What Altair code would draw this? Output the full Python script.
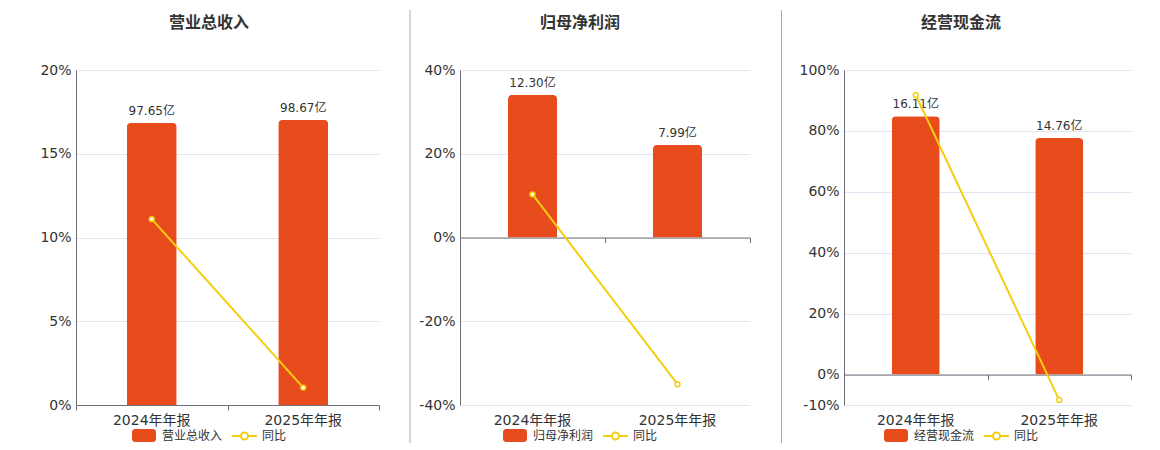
import altair as alt
import pandas as pd

# ---------------- data ----------------
categories = ["2024年年报", "2025年年报"]
titles = ["营业总收入", "归母净利润", "经营现金流"]
yoy_name = "同比"

revenue = [97.65, 98.67]
revenue_yoy = [11.10, 1.04]

profit = [12.30, 7.99]
profit_yoy = [10.30, -35.04]

cashflow = [16.11, 14.76]
cashflow_yoy = [91.80, -8.38]

pct_ticks_1 = [0, 5, 10, 15, 20]
pct_ticks_2 = [-40, -20, 0, 20, 40]
pct_ticks_3 = [-10, 0, 20, 40, 60, 80, 100]

# ---------------- style ----------------
ORANGE = "#E84B1C"
YELLOW = "#F5CE0F"
AXIS = "#6E7079"
GRID = "#E0E6F1"
TEXT = "#333333"
SEP = "#AAAAAA"
FONT = "DejaVu Sans, Noto Sans CJK SC, sans-serif"
H = 335


def one():
    return alt.Data(values=[{"k": 0}])


def panel(title, values, yoy, pct_ticks, bar_domain, width, bar_size, center, sep_x, sep_visible):
    df = pd.DataFrame({
        "cat": categories,
        "value": values,
        "yoy": yoy,
        "label": [f"{v:.2f}亿" for v in values],
    })
    pmin, pmax = min(pct_ticks), max(pct_ticks)
    zero_offset = -H * (0 - pmin) / (pmax - pmin)

    xscale = alt.Scale(domain=categories, paddingInner=0, paddingOuter=0)
    x_lab = alt.X("cat:N", sort=categories, scale=xscale,
                  axis=alt.Axis(title=None, orient="bottom", labelAngle=0, domain=False,
                                ticks=False, tickSize=0, labelFontSize=14, labelColor=TEXT,
                                labelPadding=8, grid=False))
    x_zero = alt.X("cat:N", sort=categories, scale=xscale,
                   axis=alt.Axis(title=None, orient="bottom", labels=False, domain=True,
                                 domainColor=AXIS, domainWidth=1, ticks=True, tickColor=AXIS,
                                 tickSize=5, tickBand="extent", grid=False, offset=zero_offset))

    ybar = alt.Y("value:Q", scale=alt.Scale(domain=bar_domain, nice=False), axis=None)
    bars = alt.Chart(df).mark_bar(size=bar_size, color=ORANGE,
                                  cornerRadiusTopLeft=4, cornerRadiusTopRight=4).encode(
        x=x_lab, y=ybar)
    labels = alt.Chart(df).mark_text(dy=-5, baseline="bottom", fontSize=12, color=TEXT).encode(
        x=x_lab, y=ybar, text="label:N")
    bar_layer = alt.layer(bars, labels)

    yscale = alt.Scale(domain=[pmin, pmax], nice=False)
    yaxis = alt.Axis(title=None, orient="left", values=pct_ticks, labelExpr="datum.value + '%'",
                     grid=True, gridColor=GRID, domain=True, domainColor=AXIS,
                     ticks=False, tickSize=0, labelFontSize=14, labelColor=TEXT,
                     labelPadding=5)
    yline = alt.Y("yoy:Q", scale=yscale, axis=yaxis)
    line = alt.Chart(df).mark_line(color=YELLOW, strokeWidth=2).encode(x=x_zero, y=yline)
    points = alt.Chart(df).mark_point(shape="circle", size=24, filled=True, fill="white",
                                      stroke=YELLOW, strokeWidth=1.5, opacity=1).encode(
        x=x_zero, y=yline)
    line_layer = alt.layer(line, points)

    ty = -47.5
    ly = 366
    deco = [
        alt.Chart(one()).mark_text(fontSize=16, fontWeight="bold", color=TEXT,
                                   align="center", baseline="middle").encode(
            x=alt.value(center), y=alt.value(ty), text=alt.value(title)),
        alt.Chart(one()).mark_rect(color=ORANGE, cornerRadius=3).encode(
            x=alt.value(center - 77), x2=alt.value(center - 53),
            y=alt.value(ly - 7), y2=alt.value(ly + 6)),
        alt.Chart(one()).mark_text(fontSize=12, color=TEXT, align="left", baseline="middle").encode(
            x=alt.value(center - 47), y=alt.value(ly), text=alt.value(title)),
        alt.Chart(one()).mark_rule(color=YELLOW, strokeWidth=2).encode(
            x=alt.value(center + 23), x2=alt.value(center + 48), y=alt.value(ly)),
        alt.Chart(one()).mark_point(shape="circle", size=50, filled=True, fill="white",
                                    stroke=YELLOW, strokeWidth=2, opacity=1).encode(
            x=alt.value(center + 35.5), y=alt.value(ly)),
        alt.Chart(one()).mark_text(fontSize=12, color=TEXT, align="left", baseline="middle").encode(
            x=alt.value(center + 53), y=alt.value(ly), text=alt.value(yoy_name)),
        alt.Chart(one()).mark_rule(color=SEP, strokeWidth=1,
                                   strokeOpacity=1 if sep_visible else 0).encode(
            x=alt.value(sep_x), y=alt.value(-60), y2=alt.value(373)),
    ]

    return alt.layer(bar_layer, line_layer, *deco).resolve_scale(
        y="independent").resolve_axis(x="independent").properties(width=width, height=H)


p1 = panel(titles[0], revenue, revenue_yoy, pct_ticks_1, [0, 116], 303, 50, 133, -67, False)
p2 = panel(titles[1], profit, profit_yoy, pct_ticks_2, [-14.45, 14.45], 290, 49, 120, -50, True)
p3 = panel(titles[2], cashflow, cashflow_yoy, pct_ticks_3, [-1.9, 19.0], 287, 48, 117, -62.5, True)

chart = alt.hconcat(p1, p2, p3, spacing=29).properties(
    padding={"left": 0, "top": 1, "right": 5, "bottom": 2}
).configure(font=FONT).configure_view(stroke="transparent")

chart.save("out.html", embed_options={"renderer": "svg", "actions": False})
